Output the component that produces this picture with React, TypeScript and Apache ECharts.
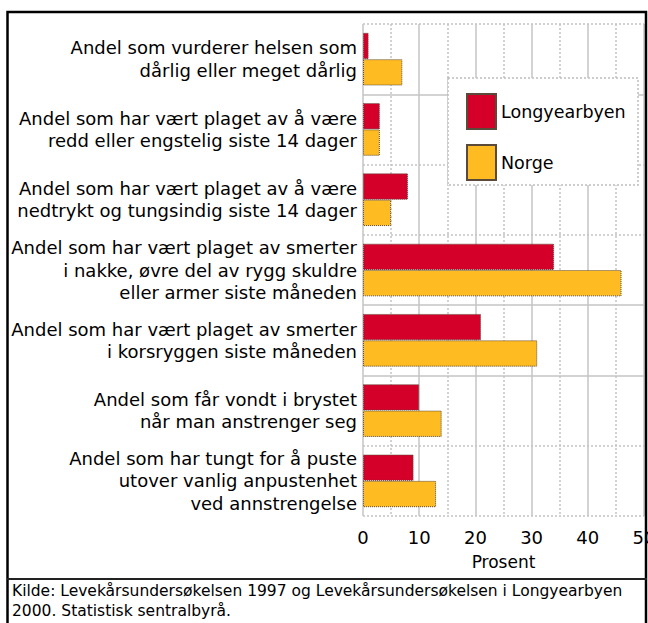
import React, { useEffect, useRef } from "react";
import * as echarts from "echarts";

const categories: string[] = [
  "Andel som vurderer helsen som\ndårlig eller meget dårlig",
  "Andel som har vært plaget av å være\nredd eller engstelig siste 14 dager",
  "Andel som har vært plaget av å være\nnedtrykt og tungsindig siste 14 dager",
  "Andel som har vært plaget av smerter\ni nakke, øvre del av rygg skuldre\neller armer siste måneden",
  "Andel som har vært plaget av smerter\ni korsryggen siste måneden",
  "Andel som får vondt i brystet\nnår man anstrenger seg",
  "Andel som har tungt for å puste\nutover vanlig anpustenhet\nved annstrengelse",
];

const longyearbyen: number[] = [1, 3, 8, 34, 21, 10, 9];
const norge: number[] = [7, 3, 5, 46, 31, 14, 13];

const seriesNames: string[] = ["Longyearbyen", "Norge"];
const axisName = "Prosent";
const sourceLines: string[] = [
  "Kilde: Levekårsundersøkelsen 1997 og Levekårsundersøkelsen i Longyearbyen",
  "2000. Statistisk sentralbyrå.",
];

// solid (true) or dotted (false) separator at each category boundary, top to bottom
const boundarySolid: boolean[] = [false, true, false, false, true, true, false, false];

const FONT = "DejaVu Sans";

export default function App() {
  const ref = useRef<HTMLDivElement>(null);

  useEffect(() => {
    if (!ref.current) return;
    document.body.style.overflow = "hidden";
    const chart = echarts.init(ref.current, null, { renderer: "svg", width: 648, height: 623 });
    const gridColor = "#c4c4c4";

    const boundaryLines = boundarySolid.map((solid, i) => ({
      yAxis: i,
      lineStyle: {
        type: solid ? "solid" : [2, 2],
        color: gridColor,
        width: 1.5,
      },
    }));

    chart.setOption({
      animation: false,
      backgroundColor: "#ffffff",
      textStyle: { fontFamily: FONT },
      grid: {
        left: 363,
        right: 4,
        top: 24,
        bottom: 107,
        containLabel: false,
        outerBoundsMode: "none",
      },
      xAxis: {
        type: "value",
        min: 0,
        max: 50,
        interval: 10,
        axisLine: { show: false },
        axisTick: { show: false },
        axisLabel: { color: "#000", fontSize: 18, fontFamily: FONT, margin: 12, hideOverlap: false },
        splitLine: { show: true, lineStyle: { color: gridColor, width: 1.5 } },
        minorTick: { show: false, splitNumber: 2 },
        minorSplitLine: { show: true, lineStyle: { color: gridColor, width: 1.5, type: [2, 2] } },
        name: axisName,
        nameLocation: "middle",
        nameGap: 37,
        nameTextStyle: { color: "#000", fontSize: 17, fontFamily: FONT },
      },
      yAxis: [
        {
          type: "category",
          data: categories,
          inverse: true,
          axisLine: { show: false },
          axisTick: { show: false },
          splitLine: { show: false },
          axisLabel: {
            color: "#000",
            fontSize: 18,
            fontFamily: FONT,
            lineHeight: 22.5,
            align: "right",
            margin: 6,
            interval: 0,
          },
        },
        {
          type: "value",
          min: 0,
          max: categories.length,
          inverse: true,
          show: false,
          splitLine: { show: false },
        },
      ],
      legend: {
        data: seriesNames,
        orient: "vertical",
        left: 466,
        top: 93,
        padding: 0,
        itemWidth: 29,
        itemHeight: 35,
        itemGap: 14,
        icon: "rect",
        z: 10,
        textStyle: { color: "#000", fontSize: 17.5, fontFamily: FONT },
      },
      graphic: [
        {
          type: "rect",
          z: 6,
          shape: { x: 448, y: 78, width: 190, height: 107 },
          style: { fill: "#ffffff", stroke: "#bdbdbd", lineWidth: 1.5, lineDash: [2, 2] },
        },
        {
          type: "rect",
          z: 20,
          shape: { x: 7.5, y: 12, width: 638.5, height: 700 },
          style: { fill: "none", stroke: "#000", lineWidth: 2.5 },
        },
        {
          type: "line",
          z: 20,
          shape: { x1: 7, y1: 579, x2: 647, y2: 579 },
          style: { stroke: "#222", lineWidth: 2 },
        },
        {
          type: "text",
          z: 20,
          x: 12,
          y: 591,
          style: {
            text: sourceLines[0],
            font: `15.5px "${FONT}"`,
            fill: "#000",
            textVerticalAlign: "middle",
          },
        },
        {
          type: "text",
          z: 20,
          x: 12,
          y: 611,
          style: {
            text: sourceLines[1],
            font: `15.5px "${FONT}"`,
            fill: "#000",
            textVerticalAlign: "middle",
          },
        },
      ],
      series: [
        {
          name: seriesNames[0],
          type: "bar",
          data: longyearbyen,
          barGap: "0%",
          barCategoryGap: "25%",
          z: 3,
          itemStyle: { color: "#d5002a", borderColor: "#5a4a3a", borderWidth: 1, borderType: "dotted" },
        },
        {
          name: seriesNames[1],
          type: "bar",
          data: norge,
          barGap: "0%",
          barCategoryGap: "25%",
          z: 3,
          itemStyle: { color: "#ffbb22", borderColor: "#5a4a3a", borderWidth: 1, borderType: "dotted" },
        },
        {
          name: "boundaries",
          type: "line",
          yAxisIndex: 1,
          data: [],
          z: 1,
          silent: true,
          markLine: {
            silent: true,
            symbol: ["none", "none"],
            label: { show: false },
            data: boundaryLines,
          },
        },
      ],
    });

    return () => chart.dispose();
  }, []);

  return (
    <div
      ref={ref}
      style={{ position: "absolute", left: 0, top: 0, width: 648, height: 623, overflow: "hidden" }}
    />
  );
}
